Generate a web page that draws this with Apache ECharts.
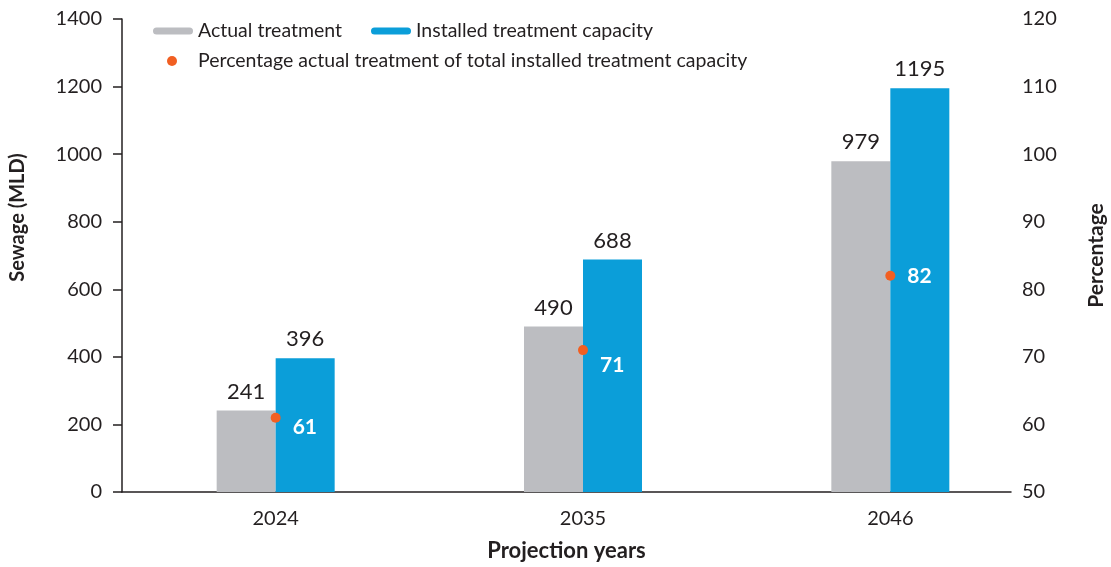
<!DOCTYPE html>
<html>
<head>
<meta charset="utf-8">
<script src="https://cdn.jsdelivr.net/npm/echarts@6/dist/echarts.min.js"></script>
<style>
  html, body { margin: 0; padding: 0; background: #fff; }
  #chart { width: 1111px; height: 567px; }
</style>
</head>
<body>
<div id="chart"></div>
<script>
// Projected sewage treatment vs installed capacity
const years = ['2024', '2035', '2046'];
const actualTreatment = [241, 490, 979];
const installedCapacity = [396, 688, 1195];
const percentTreated = [61, 71, 82];

const FONT = 'Lato, "Open Sans", sans-serif';
const TEXT = '#231F20';
const GREY = '#BCBDC1';
const BLUE = '#0B9ED9';
const ORANGE = '#F15F22';

// per-point nudge for the percentage labels
const pctLabelNudge = [[0, 10], [0, 15], [0, 0]];

const capsule = 'path://M3.5,0 H36.5 A3.5,3.5 0 0 1 36.5,7 H3.5 A3.5,3.5 0 0 1 3.5,0 Z';

const plain = v => String(v);

const chart = echarts.init(document.getElementById('chart'), null, { renderer: 'canvas' });

chart.setOption({
  animation: false,
  textStyle: { fontFamily: FONT },
  legend: [
    {
      left: 148, top: 16,
      itemWidth: 40, itemHeight: 7, itemGap: 29,
      textStyle: { fontFamily: FONT, fontSize: 19.5, color: TEXT },
      data: [
        { name: 'Actual treatment', icon: capsule },
        { name: 'Installed treatment capacity', icon: capsule }
      ]
    },
    {
      left: 162, top: 46,
      itemWidth: 42, itemHeight: 10,
      textStyle: { fontFamily: FONT, fontSize: 19.5, color: TEXT },
      data: [{ name: 'Percentage actual treatment of total installed treatment capacity', icon: 'circle' }]
    }
  ],
  grid: [
    { left: 122, right: 67, top: 19, bottom: 75, outerBoundsMode: 'none' },
    { left: 122, right: 100, top: 19, bottom: 75, outerBoundsMode: 'none' }
  ],
  xAxis: [
    {
      type: 'category', gridIndex: 0, data: years,
      axisLine: { show: false }, axisTick: { show: false },
      axisLabel: { fontFamily: FONT, fontSize: 20, color: TEXT, margin: 17 }
    },
    {
      type: 'value', gridIndex: 1, min: 0, max: 1,
      axisLine: { show: true, onZero: false, lineStyle: { color: '#231F20', width: 1.5 } },
      axisTick: { show: false }, axisLabel: { show: false }, splitLine: { show: false },
      name: 'Projection years', nameLocation: 'middle', nameGap: 48,
      nameTextStyle: { fontFamily: FONT, fontSize: 22, fontWeight: 'bold', color: TEXT }
    }
  ],
  yAxis: [
    {
      type: 'value', gridIndex: 0, position: 'left', min: 0, max: 1400, interval: 200,
      axisLine: { show: true, lineStyle: { color: '#231F20', width: 1.5 } },
      axisTick: { show: true, length: 9, lineStyle: { color: '#231F20', width: 1.5 } },
      axisLabel: { fontFamily: FONT, fontSize: 20, color: TEXT, margin: 20, formatter: plain },
      splitLine: { show: false },
      name: 'Sewage (MLD)', nameLocation: 'middle', nameRotate: 90, nameGap: 94,
      nameTextStyle: { fontFamily: FONT, fontSize: 20, fontWeight: 'bold', color: TEXT, padding: [0, 0, 0, 76] }
    },
    {
      type: 'value', gridIndex: 0, position: 'right', offset: -33, min: 50, max: 120, interval: 10,
      axisLine: { show: false }, axisTick: { show: false },
      axisLabel: { fontFamily: FONT, fontSize: 20, color: TEXT, margin: 11, formatter: plain },
      splitLine: { show: false },
      name: 'Percentage', nameLocation: 'middle', nameRotate: 90, nameGap: 75,
      nameTextStyle: { fontFamily: FONT, fontSize: 21, fontWeight: 'bold', color: TEXT }
    },
    {
      type: 'value', gridIndex: 1, show: false, min: 0, max: 1
    }
  ],
  series: [
    {
      name: 'Actual treatment', type: 'bar', xAxisIndex: 0, yAxisIndex: 0,
      data: actualTreatment, barWidth: 59, barGap: '0%',
      itemStyle: { color: GREY },
      label: { show: true, position: 'top', distance: 8, fontFamily: FONT, fontSize: 22, color: TEXT }
    },
    {
      name: 'Installed treatment capacity', type: 'bar', xAxisIndex: 0, yAxisIndex: 0,
      data: installedCapacity, barWidth: 59, barGap: '0%',
      itemStyle: { color: BLUE },
      label: { show: true, position: 'top', distance: 8, fontFamily: FONT, fontSize: 22, color: TEXT }
    },
    {
      name: 'Percentage actual treatment of total installed treatment capacity',
      type: 'scatter', xAxisIndex: 0, yAxisIndex: 1, z: 5,
      symbol: 'circle', symbolSize: 10,
      itemStyle: { color: ORANGE, opacity: 1 },
      data: percentTreated.map((v, i) => ({
        value: v,
        label: { offset: pctLabelNudge[i] }
      })),
      label: {
        show: true, position: 'right', distance: 12,
        fontFamily: FONT, fontSize: 21, fontWeight: 'bold', color: '#FFFFFF'
      }
    }
  ]
});
</script>
</body>
</html>
